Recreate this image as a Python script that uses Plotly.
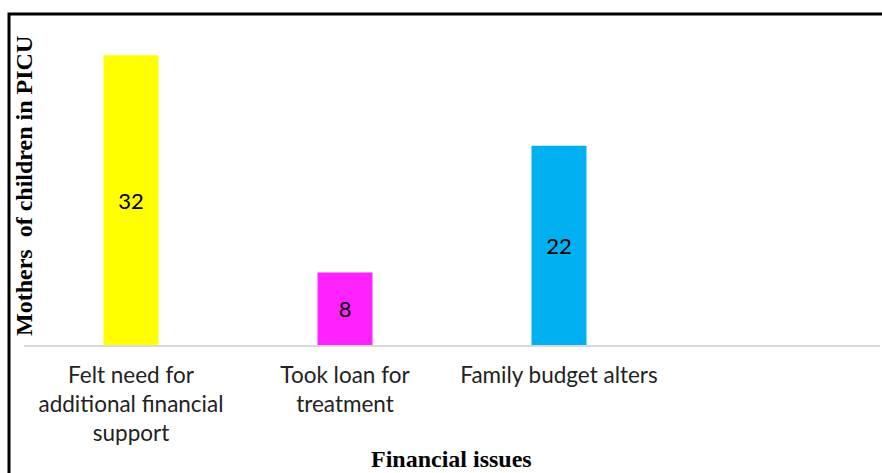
import plotly.graph_objects as go

# Financial issues reported by mothers of children in PICU
categories = [
    "Felt need for<br>additional financial<br>support",
    "Took loan for<br>treatment",
    "Family budget alters",
]
counts = [32, 8, 22]
bar_colors = ["#FFFF00", "#FF22FF", "#00B0F0"]

W, H = 882, 473
L, R, T, B = 24, 2, 28, 128          # plot area: x 24..880, y 28..345
plot_w = W - L - R
plot_h = H - T - B

def px_x(x):
    return (x - L) / plot_w

def px_y(y):
    return (H - B - y) / plot_h

fig = go.Figure(
    go.Bar(
        x=list(range(len(categories))),
        y=counts,
        width=0.257,
        marker=dict(color=bar_colors, line=dict(width=0)),
        text=[str(v) for v in counts],
        textposition="inside",
        insidetextanchor="middle",
        textangle=0,
        textfont=dict(family="Lato, Carlito, sans-serif", size=22, color="black"),
        hoverinfo="skip",
    )
)

fig.update_layout(
    width=W,
    height=H,
    margin=dict(l=L, r=R, t=T, b=B),
    paper_bgcolor="white",
    plot_bgcolor="white",
    showlegend=False,
    xaxis=dict(
        range=[-0.5, 3.5],
        tickvals=list(range(len(categories))),
        ticktext=categories,
        tickangle=0,
        tickfont=dict(family="Lato, Carlito, sans-serif", size=22.5, color="#222222"),
        ticks="",
        ticklabelstandoff=9,
        showline=True,
        linecolor="#D9D9D9",
        linewidth=1.5,
        showgrid=False,
        zeroline=False,
        fixedrange=True,
    ),
    yaxis=dict(
        range=[0, 35],
        showticklabels=False,
        ticks="",
        showline=False,
        showgrid=False,
        zeroline=False,
        fixedrange=True,
    ),
    annotations=[
        dict(
            text="<b>Mothers  of children in PICU</b>",
            xref="paper", yref="paper",
            x=px_x(24), y=px_y(186),
            xanchor="center", yanchor="middle",
            textangle=-90,
            showarrow=False,
            font=dict(family="Liberation Serif, Times New Roman, serif", size=24, color="black"),
        ),
        dict(
            text="<b>Financial issues</b>",
            xref="paper", yref="paper",
            x=px_x(451), y=px_y(459),
            xanchor="center", yanchor="middle",
            showarrow=False,
            font=dict(family="Liberation Serif, Times New Roman, serif", size=24, color="black"),
        ),
    ],
    shapes=[
        dict(
            type="rect",
            xref="paper", yref="paper",
            x0=px_x(9), x1=px_x(884),
            y0=px_y(490), y1=px_y(14),
            line=dict(color="black", width=3),
            fillcolor="rgba(0,0,0,0)",
            layer="above",
        )
    ],
)

fig.write_html("out.html")
